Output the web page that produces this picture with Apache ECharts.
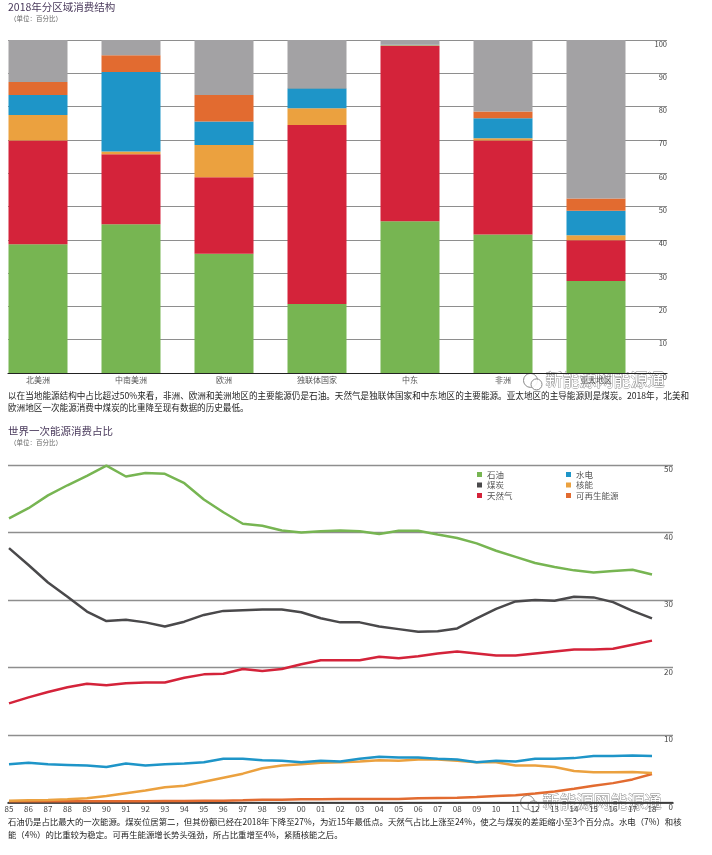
<!DOCTYPE html>
<html><head><meta charset="utf-8">
<script src="https://cdn.jsdelivr.net/npm/echarts@6/dist/echarts.min.js"></script>
<style>html,body{margin:0;padding:0;background:#fff}#c{width:712px;height:855px}</style>
</head><body><div id="c"></div>
<script>
// ---- Top chart: 2018 regional consumption structure (%) ----
const regions = ['北美洲','中南美洲','欧洲','独联体国家','中东','非洲','亚太地区'];
const barOil     = [38.7, 44.7, 35.8, 20.7, 45.6, 41.6, 27.6];
const barGas     = [31.1, 21.0, 23.0, 53.8, 52.6, 28.2, 12.3];
const barNuclear = [7.7, 0.8, 9.7, 5.0, 0.2, 0.7, 1.5];
const barHydro   = [6.0, 23.9, 7.0, 6.0, 0.2, 6.0, 7.3];
const barRenew   = [3.9, 5.0, 8.0, 0.1, 0.0, 2.0, 3.7];
const barCoal    = [12.6, 4.6, 16.5, 14.4, 1.4, 21.5, 47.6];

// ---- Bottom chart: world primary energy shares (%) 1985-2018 ----
const years = ['85','86','87','88','89','90','91','92','93','94','95','96','97','98','99','00','01','02','03','04','05','06','07','08','09','10','11','12','13','14','15','16','17','18'];
const oil     = [42.1,43.6,45.5,47.0,48.4,49.9,48.3,48.8,48.7,47.3,44.9,43.0,41.3,41.0,40.3,40.0,40.2,40.3,40.2,39.8,40.25,40.25,39.7,39.2,38.4,37.3,36.4,35.5,34.9,34.4,34.1,34.3,34.5,33.8];
const coal    = [37.7,35.2,32.6,30.5,28.3,26.9,27.1,26.7,26.1,26.8,27.8,28.4,28.5,28.6,28.6,28.2,27.3,26.7,26.7,26.1,25.7,25.3,25.4,25.8,27.3,28.7,29.8,30.0,29.9,30.5,30.4,29.7,28.4,27.3];
const gas     = [14.7,15.6,16.4,17.1,17.6,17.4,17.7,17.8,17.8,18.5,19.0,19.1,19.8,19.5,19.8,20.5,21.1,21.1,21.1,21.6,21.4,21.7,22.1,22.4,22.1,21.8,21.8,22.1,22.4,22.7,22.7,22.8,23.4,24.0];
const hydro   = [5.7,5.9,5.7,5.6,5.5,5.3,5.8,5.5,5.7,5.8,6.0,6.5,6.5,6.3,6.2,6.0,6.2,6.1,6.5,6.8,6.7,6.7,6.5,6.4,6.0,6.2,6.1,6.5,6.5,6.6,6.9,6.9,7.0,6.9];
const nuclear = [0.3,0.35,0.4,0.5,0.65,1.0,1.4,1.8,2.3,2.5,3.1,3.7,4.3,5.1,5.5,5.7,5.9,6.0,6.1,6.3,6.2,6.4,6.4,6.2,6.0,6.0,5.5,5.5,5.3,4.7,4.5,4.5,4.55,4.4];
const renew   = [0.2,0.2,0.2,0.2,0.2,0.2,0.2,0.2,0.25,0.25,0.3,0.3,0.35,0.45,0.45,0.5,0.5,0.55,0.55,0.55,0.55,0.65,0.7,0.75,0.85,1.0,1.1,1.35,1.65,2.05,2.5,2.9,3.45,4.25];

const C = {oil:'#77b552', gas:'#d4233a', nuclear:'#eba13f', hydro:'#1e95c8', renew:'#e26b30', coalBar:'#a3a2a4', coalLine:'#4a494b'};
const FONT = '"Noto Sans CJK SC", "Noto Sans", sans-serif';

const chart = echarts.init(document.getElementById('c'), null, {renderer:'canvas'});

function bar(name, data, color){
  return {type:'bar', name, data, xAxisIndex:1, yAxisIndex:1, stack:'r', barWidth:59,
    itemStyle:{color}, emphasis:{disabled:true}, silent:true};
}
function line(name, data, color){
  return {type:'line', name, data, xAxisIndex:3, yAxisIndex:3, symbol:'none', smooth:false,
    lineStyle:{color, width:2.5}, itemStyle:{color}, emphasis:{disabled:true}, silent:true};
}
const splitAxis = (max, labelSize, w) => ({
  type:'value', min:0, max, interval:10, position:'right',
  axisLine:{show:false}, axisTick:{show:false},
  axisLabel:{inside:true, verticalAlign:'top', margin:0, fontSize:labelSize, color:'#444', fontFamily:FONT},
  splitLine:{show:true, lineStyle:{color:'#8e8e8e', width:w}}
});
const baseAxis = (w) => ({type:'value', min:0, max:1, axisLine:{show:true, onZero:false, lineStyle:{color:'#222', width:w}},
  axisTick:{show:false}, axisLabel:{show:false}, splitLine:{show:false}});

const legendCommon = {orient:'vertical', padding:0, itemWidth:5, itemHeight:5, itemGap:1.5, icon:'rect', selectedMode:false,
  textStyle:{fontSize:8.5, color:'#555', fontFamily:FONT, lineHeight:9}};

const option = {
  animation:false,
  textStyle:{fontFamily:FONT},
  grid:[
    {left:8, right:45, top:40, bottom:482, outerBoundsMode:'none'},
    {left:-8.5, width:651, top:40, bottom:482, outerBoundsMode:'none'},
    {left:8, right:39, top:465, bottom:52.3, outerBoundsMode:'none'},
    {left:9, right:60, top:465, bottom:52.3, outerBoundsMode:'none'}
  ],
  xAxis:[
    Object.assign({gridIndex:0}, baseAxis(1.2)),
    {gridIndex:1, type:'category', data:regions, axisLine:{show:false}, axisTick:{show:false},
      axisLabel:{fontSize:8, color:'#555', margin:3, fontFamily:FONT}},
    Object.assign({gridIndex:2}, baseAxis(1.6)),
    {gridIndex:3, type:'category', data:years, boundaryGap:false, axisLine:{show:false}, axisTick:{show:false},
      axisLabel:{interval:0, fontSize:8, color:'#444', margin:2, fontFamily:FONT}}
  ],
  yAxis:[
    Object.assign({gridIndex:0}, splitAxis(100, 7.5, 1)),
    {gridIndex:1, type:'value', min:0, max:100, show:false},
    Object.assign({gridIndex:2}, splitAxis(50, 8, 1.3)),
    {gridIndex:3, type:'value', min:0, max:50, show:false}
  ],
  legend:[
    Object.assign({left:477, top:470, data:[
      {name:'石油', itemStyle:{color:C.oil}},
      {name:'煤炭', itemStyle:{color:C.coalLine}},
      {name:'天然气', itemStyle:{color:C.gas}}]}, legendCommon),
    Object.assign({left:566, top:470, data:[
      {name:'水电', itemStyle:{color:C.hydro}},
      {name:'核能', itemStyle:{color:C.nuclear}},
      {name:'可再生能源', itemStyle:{color:C.renew}}]}, legendCommon)
  ],
  series:[
    bar('石油', barOil, C.oil),
    bar('天然气', barGas, C.gas),
    bar('核能', barNuclear, C.nuclear),
    bar('水电', barHydro, C.hydro),
    bar('可再生能源', barRenew, C.renew),
    bar('煤炭', barCoal, C.coalBar),
    line('可再生能源', renew, C.renew),
    line('核能', nuclear, C.nuclear),
    line('水电', hydro, C.hydro),
    line('天然气', gas, C.gas),
    line('煤炭', coal, C.coalLine),
    line('石油', oil, C.oil)
  ],
  graphic:[
    {type:'text', left:8, top:1.5, style:{text:'2018年分区域消费结构', fontSize:10.5, fill:'#4a3a5c', fontFamily:FONT}},
    {type:'text', left:10, top:15, style:{text:'（单位：百分比）', fontSize:6.5, fill:'#666', fontFamily:FONT}},
    {type:'text', left:8, top:389.5, style:{text:'以在当地能源结构中占比超过50%来看，非洲、欧洲和美洲地区的主要能源仍是石油。天然气是独联体国家和中东地区的主要能源。亚太地区的主导能源则是煤炭。2018年，北美和\n欧洲地区一次能源消费中煤炭的比重降至现有数据的历史最低。', fontSize:8.6, lineHeight:12, fill:'#222', fontFamily:FONT}},
    {type:'text', left:8, top:425.5, style:{text:'世界一次能源消费占比', fontSize:10.5, fill:'#4a3a5c', fontFamily:FONT}},
    {type:'text', left:10, top:439, style:{text:'（单位：百分比）', fontSize:6.5, fill:'#666', fontFamily:FONT}},
    {type:'text', left:8, top:815, style:{text:'石油仍是占比最大的一次能源。煤炭位居第二，但其份额已经在2018年下降至27%，为近15年最低点。天然气占比上涨至24%，使之与煤炭的差距缩小至3个百分点。水电（7%）和核\n能（4%）的比重较为稳定。可再生能源增长势头强劲，所占比重增至4%，紧随核能之后。', fontSize:8.4, lineHeight:13, fill:'#222', fontFamily:FONT}},
    // watermarks
    {type:'group', left:523, top:371, z:100, children:[
      {type:'circle', shape:{cx:9, cy:9, r:7}, style:{fill:'rgba(255,255,255,0.9)', stroke:'#888', lineWidth:1}},
      {type:'circle', shape:{cx:15, cy:13, r:5.5}, style:{fill:'rgba(255,255,255,0.9)', stroke:'#888', lineWidth:1}},
      {type:'text', x:24, y:0, style:{text:'新能源网能源通', fontSize:17, fill:'#fff', stroke:'#808080', lineWidth:0.8, fontFamily:FONT}}
    ]},
    {type:'group', left:520, top:793, z:100, children:[
      {type:'circle', shape:{cx:9, cy:9, r:7}, style:{fill:'rgba(255,255,255,0.9)', stroke:'#888', lineWidth:1}},
      {type:'circle', shape:{cx:15, cy:13, r:5.5}, style:{fill:'rgba(255,255,255,0.9)', stroke:'#888', lineWidth:1}},
      {type:'text', x:24, y:0, style:{text:'新能源网能源通', fontSize:17, fill:'#fff', stroke:'#808080', lineWidth:0.8, fontFamily:FONT}}
    ]}
  ]
};
chart.setOption(option);
</script>
</body></html>
